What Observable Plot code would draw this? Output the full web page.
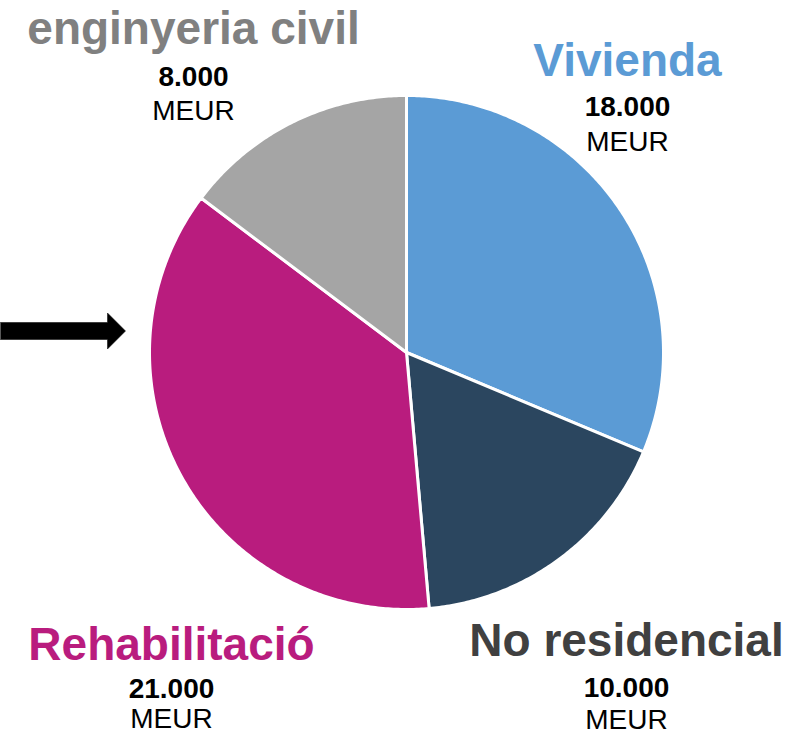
<!DOCTYPE html>
<html>
<head>
<meta charset="utf-8">
<script src="https://cdn.jsdelivr.net/npm/d3@7"></script>
<script src="https://cdn.jsdelivr.net/npm/@observablehq/plot@0.6"></script>
<style>
  html, body { margin: 0; padding: 0; background: #fff; }
  #chart svg { display: block; }
</style>
</head>
<body>
<div id="chart"></div>
<script>
// ---- data ----
const categories = ["Vivienda", "No residencial", "Rehabilitació", "enginyeria civil"];
// values printed in the labels (MEUR)
const values = [18000, 10000, 21000, 8000];
// slice sizes as drawn in the picture (MEUR)
const sliceValues = [17850, 9850, 20900, 8400];
const unit = "MEUR";

// ---- styles / layout ----
const sliceColors = ["#5B9BD5", "#2B465F", "#B91C7E", "#A5A5A5"];
const titleColors = ["#5B9BD5", "#404040", "#B91C7E", "#808080"];
const W = 808, H = 735;
const cx = 406, cy = 352, R = 257;
// label anchor (x, title baseline, value baseline, unit baseline) per category
const labelPos = [
  [627, 75, 115, 150],
  [626, 655, 696, 728],
  [171, 659, 697, 727],
  [193, 43, 85, 119]
];

const fmt = d3.formatLocale({decimal: ",", thousands: ".", grouping: [3], currency: ["", ""]}).format(",");

// slices via d3.pie (clockwise from 12 o'clock, data order)
const arcs = d3.pie().sort(null).value(d => d.value)(categories.map((c, i) => ({cat: c, value: sliceValues[i]})));
const pts = [];
for (const a of arcs) {
  const steps = Math.max(8, Math.ceil((a.endAngle - a.startAngle) / 0.01));
  pts.push({cat: a.data.cat, x: cx, y: cy});
  for (let k = 0; k <= steps; k++) {
    const t = a.startAngle + (a.endAngle - a.startAngle) * k / steps;
    pts.push({cat: a.data.cat, x: cx + R * Math.sin(t), y: cy - R * Math.cos(t)});
  }
}

const titles = categories.map((c, i) => ({text: c, x: labelPos[i][0], y: labelPos[i][1], color: titleColors[i]}));
const nums = categories.map((c, i) => ({text: fmt(values[i]), x: labelPos[i][0], y: labelPos[i][2]}));
const units = categories.map((c, i) => ({text: unit, x: labelPos[i][0], y: labelPos[i][3]}));

// block arrow pointing at the Rehabilitació slice
const arrowY = 330.5, arrowX0 = 0, arrowNeck = 107, arrowTip = 125, shaftHalf = 8.5, headHalf = 18;
const arrowShape = [
  {x: arrowX0, y: arrowY - shaftHalf}, {x: arrowNeck, y: arrowY - shaftHalf},
  {x: arrowNeck, y: arrowY - headHalf}, {x: arrowTip, y: arrowY},
  {x: arrowNeck, y: arrowY + headHalf}, {x: arrowNeck, y: arrowY + shaftHalf},
  {x: arrowX0, y: arrowY + shaftHalf}
];

const chart = Plot.plot({
  width: W, height: H,
  margin: 0,
  style: {fontFamily: "'Liberation Sans', Arial, sans-serif", background: "#fff"},
  x: {domain: [0, W], range: [0, W], axis: null},
  y: {domain: [0, H], range: [0, H], axis: null},
  color: {domain: categories, range: sliceColors},
  marks: [
    Plot.line(pts, {x: "x", y: "y", z: "cat", fill: "cat", stroke: "#fff", strokeWidth: 3, curve: "linear-closed", strokeLinejoin: "round"}),
    Plot.line(arrowShape, {x: "x", y: "y", fill: "#000", stroke: "#000", strokeWidth: 0.5, curve: "linear-closed"}),
    Plot.text(titles, {x: "x", y: "y", text: "text", fill: d => d.color, fontSize: 46, fontWeight: "bold", lineAnchor: "bottom", textAnchor: "middle"}),
    Plot.text(nums, {x: "x", y: "y", text: "text", fill: "#000", fontSize: 28, fontWeight: "bold", lineAnchor: "bottom", textAnchor: "middle"}),
    Plot.text(units, {x: "x", y: "y", text: "text", fill: "#000", fontSize: 28, lineAnchor: "bottom", textAnchor: "middle"})
  ]
});
document.getElementById("chart").appendChild(chart);
</script>
</body>
</html>
